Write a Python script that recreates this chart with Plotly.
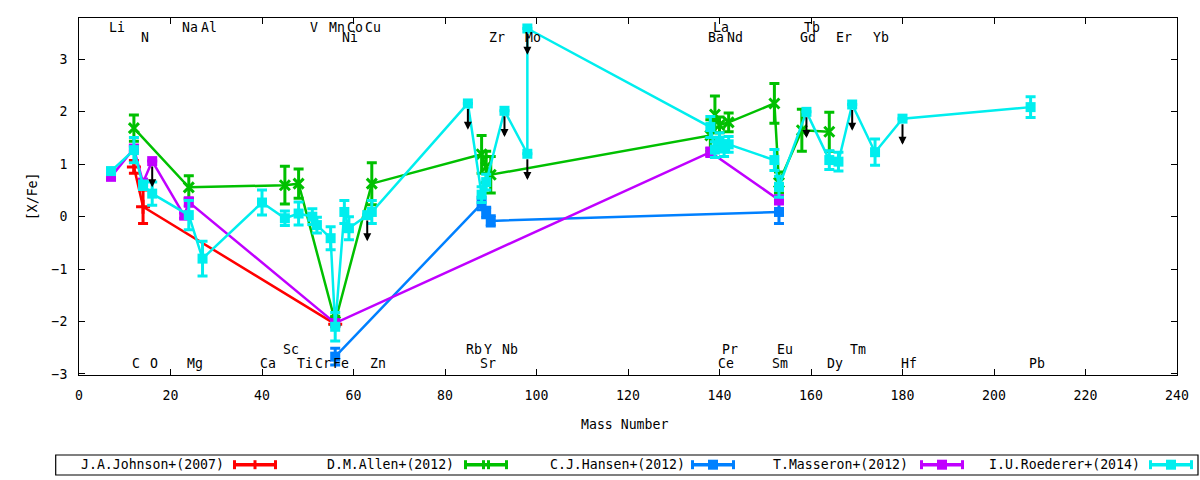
import plotly.graph_objects as go

# ---------------- element labels (mass number positions) ----------------
top1_names = ["Li", "Na", "Al", "V", "Mn", "Co", "Cu", "La", "Tb"]
top1_mass = [7, 23, 27, 51, 55, 59, 63, 139, 159]
top2_names = ["N", "Ni", "Zr", "Mo", "Ba", "Nd", "Gd", "Er", "Yb"]
top2_mass = [14, 58, 90, 98, 138, 142, 158, 166, 174]
bot1_names = ["Sc", "Rb", "Y", "Nb", "Pr", "Eu", "Tm"]
bot1_mass = [45, 85, 89, 93, 141, 153, 169]
bot2_names = ["C", "O", "Mg", "Ca", "Ti", "Cr", "Fe", "Zn", "Sr", "Ce", "Sm", "Dy", "Hf", "Pb"]
bot2_mass = [12, 16, 24, 40, 48, 52, 56, 64, 88, 140, 152, 164, 180, 208]

# ---------------- series ----------------
johnson_mass = [12, 14, 56]
johnson_val = [0.95, 0.19, -2.05]
johnson_err = [0.12, 0.32, 0.0]
johnson_lim = [0, 0, 0]

allen_mass = [12, 24, 45, 48, 56, 64, 88, 89, 90, 138, 139, 140, 142, 152, 153, 158, 164]
allen_val = [1.69, 0.56, 0.60, 0.63, -2.00, 0.63, 1.19, 0.95, 0.80, 1.55, 1.95, 1.75, 1.80, 2.16, 0.65, 1.65, 1.62]
allen_err = [0.25, 0.22, 0.36, 0.28, 0.10, 0.40, 0.36, 0.30, 0.35, 0.30, 0.35, 0.15, 0.18, 0.38, 0.20, 0.40, 0.37]
allen_lim = [0] * 17

hansen_mass = [56, 88, 89, 90, 153]
hansen_val = [-2.67, 0.25, 0.08, -0.08, 0.09]
hansen_err = [0.16, 0.12, 0.10, 0.10, 0.22]
hansen_lim = [0, 0, 0, 0, 0]

masseron_mass = [7, 12, 14, 16, 23, 24, 56, 138, 153]
masseron_val = [0.76, 1.30, 0.65, 1.06, 0.02, 0.28, -2.03, 1.23, 0.32]
masseron_err = [0.05, 0.05, 0.05, 0.0, 0.05, 0.08, 0.05, 0.08, 0.08]
masseron_lim = [0, 0, 0, 1, 0, 0, 0, 0, 0]

roederer_mass = [7, 12, 14, 16, 24, 27, 40, 45, 48, 51, 52, 55, 56, 58, 59, 63, 64,
                 85, 88, 89, 93, 98, 98, 138, 139, 140, 141, 142, 152, 153,
                 159, 164, 166, 169, 174, 180, 208]
roederer_val = [0.87, 1.27, 0.60, 0.44, 0.03, -0.80, 0.27, -0.03, 0.06, 0.00, -0.16, -0.41, -2.10, 0.09, -0.22, 0.03, 0.09,
                2.16, 0.42, 0.66, 2.02, 1.20, 3.59, 1.71, 1.28, 1.45, 1.30, 1.38, 1.08, 0.57,
                2.00, 1.08, 1.05, 2.14, 1.23, 1.87, 2.09]
roederer_err = [0.05, 0.24, 0.08, 0.22, 0.28, 0.33, 0.24, 0.14, 0.22, 0.15, 0.15, 0.22, 0.27, 0.22, 0.22, 0.0, 0.22,
                0.0, 0.15, 0.15, 0.0, 0.0, 0.0, 0.20, 0.15, 0.15, 0.15, 0.15, 0.20, 0.20,
                0.0, 0.18, 0.18, 0.0, 0.25, 0.0, 0.20]
roederer_lim = [0, 0, 0, 0, 0, 0, 0, 0, 0, 0, 0, 0, 0, 0, 0, 1, 0,
                1, 0, 0, 1, 1, 1, 0, 0, 0, 0, 0, 0, 0,
                1, 0, 0, 1, 0, 1, 0]

series_names = ["J.A.Johnson+(2007)", "D.M.Allen+(2012)", "C.J.Hansen+(2012)",
                "T.Masseron+(2012)", "I.U.Roederer+(2014)"]
series_colors = ["#ff0000", "#00c000", "#0080ff", "#c000ff", "#00eeee"]
series_symbols = ["cross-thin", "x-thin", "square", "square", "square"]
series_data = [
    (johnson_mass, johnson_val, johnson_err, johnson_lim),
    (allen_mass, allen_val, allen_err, allen_lim),
    (hansen_mass, hansen_val, hansen_err, hansen_lim),
    (masseron_mass, masseron_val, masseron_err, masseron_lim),
    (roederer_mass, roederer_val, roederer_err, roederer_lim),
]

FONT = "DejaVu Sans Mono"
FS = 13.2
LIMIT_LEN = 0.5

fig = go.Figure()
annotations = []

for name, color, sym, (m, v, e, lim) in zip(series_names, series_colors, series_symbols, series_data):
    if sym == "square":
        marker = dict(symbol=sym, size=10, color=color, line=dict(width=0))
    else:
        marker = dict(symbol=sym, size=10, color=color, line=dict(width=3, color=color))
    fig.add_trace(go.Scatter(
        x=m, y=v, name=name, mode="lines+markers",
        line=dict(color=color, width=2.5),
        marker=marker,
        error_y=dict(type="data", array=e, visible=True, color=color, thickness=3, width=5),
        showlegend=False,
    ))
    for mi, vi, li in zip(m, v, lim):
        if li:
            annotations.append(dict(
                x=mi, y=vi - LIMIT_LEN, ax=mi, ay=vi,
                xref="x", yref="y", axref="x", ayref="y",
                showarrow=True, arrowhead=2, arrowsize=0.8, arrowwidth=2,
                arrowcolor="black", text="", startstandoff=4,
            ))

# element labels
for names, masses, yv in [(top1_names, top1_mass, 3.60), (top2_names, top2_mass, 3.41),
                          (bot1_names, bot1_mass, -2.54), (bot2_names, bot2_mass, -2.81)]:
    for nm, ms in zip(names, masses):
        annotations.append(dict(
            x=ms, y=yv, xref="x", yref="y", text=nm, showarrow=False,
            xanchor="left", yanchor="middle", xshift=-4,
            font=dict(family=FONT, size=FS, color="black"),
        ))

# axis titles
annotations.append(dict(x=0.497, y=-0.140, xref="paper", yref="paper", text="Mass Number",
                        showarrow=False, xanchor="center", yanchor="middle",
                        font=dict(family=FONT, size=FS, color="black")))
annotations.append(dict(x=-0.0428, y=0.501, xref="paper", yref="paper", text="[X/Fe]",
                        showarrow=False, xanchor="center", yanchor="middle", textangle=-90,
                        font=dict(family=FONT, size=FS, color="black")))

# ---------------- custom legend (text before sample, gnuplot style) ----------------
L, PW, T, PH = 79, 1098, 18, 357


def px_x(p):
    return (p - L) / PW


def px_y(p):
    return (T + PH - p) / PH


shapes = []
shapes.append(dict(type="rect", xref="paper", yref="paper",
                   x0=px_x(55.7), x1=px_x(1198), y0=px_y(475), y1=px_y(455),
                   line=dict(color="black", width=1.2), fillcolor="rgba(0,0,0,0)"))
leg_text_right = [226, 456, 687, 910, 1142]
leg_sample_left = [233, 464, 691, 920, 1149]
yc = 464.7
for name, color, sym, tr, sl in zip(series_names, series_colors, series_symbols,
                                    leg_text_right, leg_sample_left):
    annotations.append(dict(x=px_x(tr), y=px_y(yc), xref="paper", yref="paper", text=name,
                            showarrow=False, xanchor="right", yanchor="middle",
                            font=dict(family=FONT, size=FS, color="black")))
    sr = sl + 44
    shapes.append(dict(type="line", xref="paper", yref="paper", x0=px_x(sl), x1=px_x(sr),
                       y0=px_y(yc), y1=px_y(yc), line=dict(color=color, width=3.5)))
    for cx in (sl + 1.5, sr - 1.5):
        shapes.append(dict(type="line", xref="paper", yref="paper", x0=px_x(cx), x1=px_x(cx),
                           y0=px_y(yc - 4.5), y1=px_y(yc + 4.5), line=dict(color=color, width=3)))
    mid = (sl + sr) / 2
    if sym == "square":
        shapes.append(dict(type="rect", xref="paper", yref="paper", x0=px_x(mid - 5), x1=px_x(mid + 5),
                           y0=px_y(yc + 5), y1=px_y(yc - 5), line=dict(width=0), fillcolor=color))
    elif sym == "cross-thin":
        shapes.append(dict(type="line", xref="paper", yref="paper", x0=px_x(mid), x1=px_x(mid),
                           y0=px_y(yc - 4.5), y1=px_y(yc + 4.5), line=dict(color=color, width=3)))
    else:
        for dx in (-2.5, 2.5):
            shapes.append(dict(type="line", xref="paper", yref="paper", x0=px_x(mid + dx), x1=px_x(mid + dx),
                               y0=px_y(yc - 4.5), y1=px_y(yc + 4.5), line=dict(color=color, width=3)))

fig.update_layout(
    width=1200, height=480,
    margin=dict(l=79, r=23, t=18, b=105),
    paper_bgcolor="white", plot_bgcolor="white",
    font=dict(family=FONT, size=FS, color="black"),
    showlegend=False,
    annotations=annotations,
    shapes=shapes,
    xaxis=dict(range=[0, 240], dtick=20, tick0=0, ticks="inside", ticklen=6, tickwidth=1,
               tickcolor="black", showline=True, linecolor="black", linewidth=1, mirror="ticks",
               showgrid=False, zeroline=False, ticklabelstandoff=8,
               tickfont=dict(family=FONT, size=FS, color="black")),
    yaxis=dict(range=[-3.02, 3.79], dtick=1, tick0=0, ticks="inside", ticklen=6, tickwidth=1,
               tickcolor="black", showline=True, linecolor="black", linewidth=1, mirror="ticks",
               showgrid=False, zeroline=False, ticklabelstandoff=8,
               tickfont=dict(family=FONT, size=FS, color="black")),
)

fig.write_html("out.html",
               config={"displayModeBar": False},
               post_script="document.body.style.margin='0';document.body.style.overflow='hidden';")
